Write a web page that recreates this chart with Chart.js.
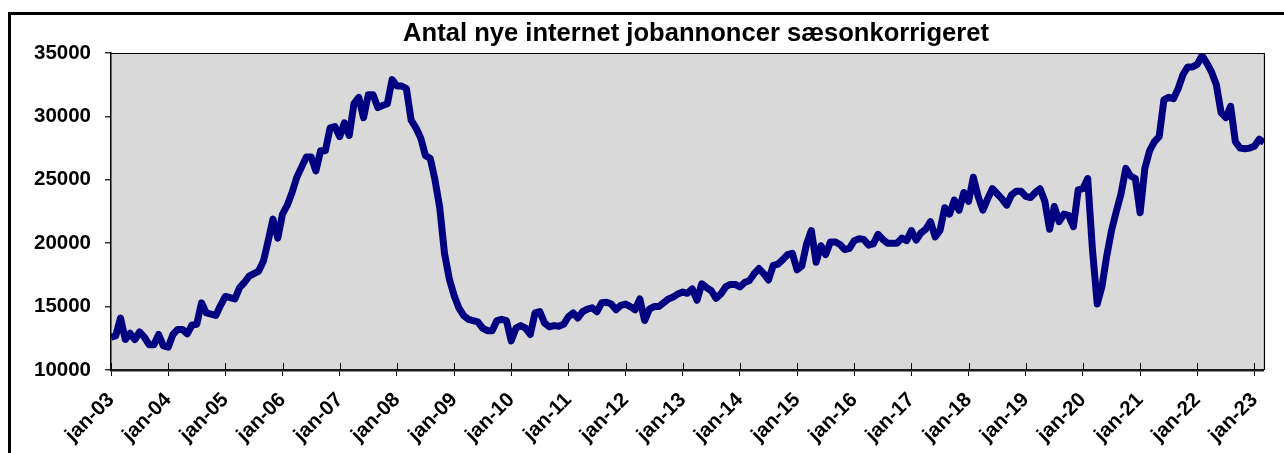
<!DOCTYPE html>
<html><head><meta charset="utf-8">
<script src="https://cdn.jsdelivr.net/npm/chart.js@4/dist/chart.umd.min.js"></script>
<style>
html,body{margin:0;padding:0;background:#fff;}
#wrap{position:relative;width:1284px;height:453px;overflow:hidden;}
#frame{position:absolute;left:8px;top:12px;width:1400px;height:600px;border-left:3px solid #000;border-top:3px solid #000;box-sizing:border-box;}
canvas{position:absolute;left:0;top:0;}
</style></head><body>
<div id="wrap"><div id="frame"></div><canvas id="c" width="1284" height="453"></canvas></div>
<script>
const chartTitle = 'Antal nye internet jobannoncer sæsonkorrigeret';
const years = ['03','04','05','06','07','08','09','10','11','12','13','14','15','16','17','18','19','20','21','22','23'];
const monthNames = ['jan','feb','mar','apr','maj','jun','jul','aug','sep','okt','nov','dec'];
// monthly values jan-03 .. mar-23
const values = [
  12600,12700,14100,12400,12900,12400,13000,12600,12000,12000,12800,11900, // 2003
  11800,12800,13200,13200,12850,13550,13600,15300,14500,14400,14300,15100, // 2004
  15800,15700,15600,16500,16900,17400,17600,17800,18600,20200,21900,20400, // 2005
  22300,23000,24000,25200,26000,26800,26800,25700,27300,27300,29100,29200, // 2006
  28400,29500,28500,31000,31500,29900,31700,31700,30700,30850,31000,32900, // 2007
  32400,32400,32200,29700,29100,28300,26900,26700,25000,22800,19200,17200, // 2008
  15900,14900,14300,14000,13900,13800,13300,13100,13100,13900,14000,13900, // 2009
  12300,13300,13500,13300,12800,14500,14600,13700,13400,13500,13450,13600, // 2010
  14200,14500,14100,14600,14800,14900,14600,15300,15350,15200,14750,15100, // 2011
  15200,15000,14750,15600,13900,14800,15000,15000,15300,15600,15750,16000, // 2012
  16150,16050,16400,15500,16800,16500,16250,15650,16000,16550,16750,16750, // 2013
  16550,16900,17050,17600,18000,17600,17100,18250,18350,18700,19100,19200, // 2014
  17900,18200,19950,21000,18500,19800,19100,20100,20100,19900,19500,19600, // 2015
  20200,20350,20300,19850,19950,20700,20300,20000,20000,20000,20400,20200, // 2016
  21000,20250,20800,21100,21700,20500,21000,22800,22300,23400,22600,24000, // 2017
  23300,25200,23700,22600,23500,24300,23900,23500,23000,23800,24100,24100, // 2018
  23700,23600,24000,24300,23300,21100,22900,21700,22300,22200,21300,24200, // 2019
  24300,25100,19500,15200,16600,19000,21000,22500,23900,25900,25300,25100, // 2020
  22400,25900,27300,28000,28400,31300,31500,31400,32200,33300,33900,33900, // 2021
  34100,34800,34200,33500,32500,30300,29900,30800,28000,27500,27450,27500, // 2022
  27650,28200,27950                                                         // 2023
];
const categories = [];
years.forEach(y => monthNames.forEach(m => categories.push(m + '-' + y)));
categories.length = values.length;
const xTickIndex = categories.map((c, i) => c.startsWith('jan-') ? i : -1).filter(i => i >= 0);
const yTicks = [10000, 15000, 20000, 25000, 30000, 35000];

const FONT = 'Arial, "Liberation Sans", sans-serif';

const framePlugin = {
  id: 'framePlugin',
  beforeDraw(chart) {
    const {ctx, chartArea: a} = chart;
    ctx.save();
    ctx.fillStyle = '#d9d9d9';
    ctx.fillRect(a.left, a.top, a.right - a.left, a.bottom - a.top);
    ctx.restore();
  },
  afterDraw(chart) {
    const {ctx, chartArea: a} = chart;
    ctx.save();
    ctx.strokeStyle = '#000';
    ctx.lineWidth = 1.2;
    ctx.beginPath();
    ctx.moveTo(a.left, a.top + 0.5);
    ctx.lineTo(a.right + 0.5, a.top + 0.5);
    ctx.lineTo(a.right + 0.5, a.bottom);
    ctx.stroke();
    // inner half of the x tick marks (they cross the axis)
    const xs = chart.scales.x;
    ctx.strokeStyle = '#000';
    ctx.lineWidth = 1;
    xTickIndex.forEach(i => {
      const px = Math.round(xs.getPixelForValue(i)) + 0.5;
      ctx.beginPath();
      ctx.moveTo(px, a.bottom);
      ctx.lineTo(px, a.bottom - 7);
      ctx.stroke();
    });
    // title
    ctx.fillStyle = '#000';
    ctx.font = 'bold 25.6px ' + FONT;
    ctx.textAlign = 'center';
    ctx.textBaseline = 'middle';
    ctx.fillText(chartTitle, 696, 34);
    ctx.restore();
  }
};

new Chart(document.getElementById('c'), {
  type: 'line',
  data: {
    datasets: [{
      data: values.map((v, i) => ({x: i, y: v})),
      borderColor: '#000080',
      borderWidth: 7,
      pointRadius: 0,
      tension: 0,
      fill: false,
      borderJoinStyle: 'round',
      borderCapStyle: 'butt'
    }]
  },
  options: {
    responsive: false,
    animation: false,
    devicePixelRatio: 1,
    layout: {padding: {top: 53, right: 20, left: 0, bottom: 0}},
    plugins: {legend: {display: false}, tooltip: {enabled: false}, title: {display: false}},
    scales: {
      x: {
        type: 'linear',
        min: 0,
        max: values.length - 1,
        afterBuildTicks: s => { s.ticks = xTickIndex.map(v => ({value: v})); },
        afterFit: s => { s.height = 83; },
        ticks: {
          autoSkip: false, maxRotation: 45, minRotation: 45, color: '#000',
          padding: 12,
          font: {family: FONT, size: 20.5, weight: 'bold'},
          callback: v => categories[v]
        },
        grid: {drawOnChartArea: false, drawTicks: true, tickLength: 6, tickColor: '#000', lineWidth: 1},
        border: {display: true, color: '#1a1a1a', width: 2.5}
      },
      y: {
        min: 10000,
        max: 35000,
        afterBuildTicks: s => { s.ticks = yTicks.map(v => ({value: v})); },
        afterFit: s => { s.width = 111; },
        ticks: {
          color: '#000', padding: 14,
          font: {family: FONT, size: 20.5, weight: 'bold'},
          callback: v => String(v)
        },
        grid: {drawOnChartArea: false, drawTicks: true, tickLength: 6, tickColor: '#333', lineWidth: 1.5},
        border: {display: true, color: '#000', width: 1.5}
      }
    }
  },
  plugins: [framePlugin]
});
</script>
</body></html>
